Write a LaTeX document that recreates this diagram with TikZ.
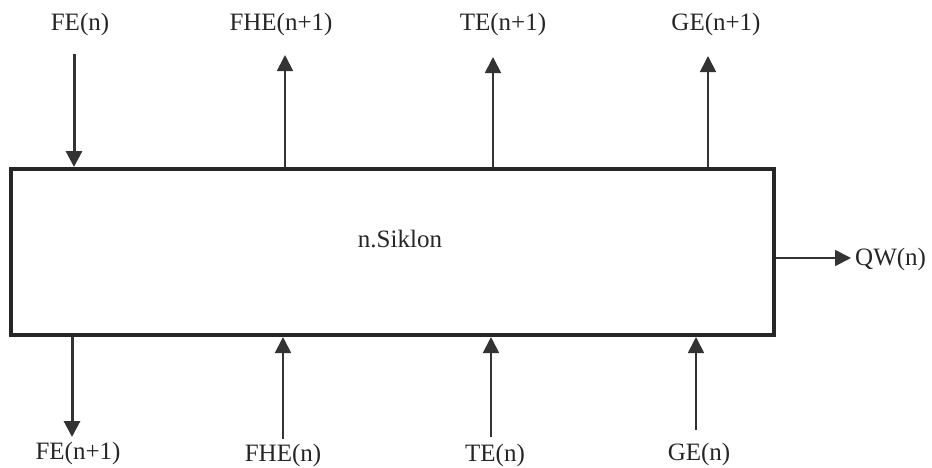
\documentclass[tikz,border=0pt]{standalone}
\usepackage{fontspec}
\setmainfont{Liberation Serif}
\usetikzlibrary{arrows.meta}
\begin{document}
\begin{tikzpicture}[x=1pt,y=-1pt,
 lbl/.style={font=\fontsize{25}{30}\selectfont, inner sep=0pt, text=black!85},
 flow/.style={draw=black!80, line width=1.8pt, -{Triangle[length=16pt,width=16pt]}, fill=black!75},
 heavy/.style={flow, line width=3pt},
]
\useasboundingbox (0,0) rectangle (932,467);
\node[draw=black!85, line width=4pt, minimum width=763pt, minimum height=166pt, inner sep=0pt] (box) at (392.5,252) {};
\node[lbl] (siklon) at (400,239) {n.Siklon};
% top labels
\node[lbl] (fen) at (80,24) {FE(n)};
\node[lbl] (fhen1) at (281,24) {FHE(n+1)};
\node[lbl] (ten1) at (503,24) {TE(n+1)};
\node[lbl] (gen1) at (716,24) {GE(n+1)};
% bottom labels
\node[lbl] (fen1) at (78,453) {FE(n+1)};
\node[lbl] (fhen) at (283,455) {FHE(n)};
\node[lbl] (ten) at (495,455) {TE(n)};
\node[lbl] (gen) at (699,454) {GE(n)};
\node[lbl, anchor=west] (qwn) at (855,259) {QW(n)};
% arrow ends
\coordinate (a1) at (74,54);
\coordinate (a2) at (285,55);
\coordinate (a3) at (493,57);
\coordinate (a4) at (708,56);
\coordinate (b1) at (72,437);
\coordinate (b2) at (283,439);
\coordinate (b3) at (491,437);
\coordinate (b4) at (696,430);
\coordinate (c1) at (851,258);
% arrows
\draw[heavy] (a1) -- (box.north -| a1);
\draw[flow] (box.north -| a2) -- (a2);
\draw[flow] (box.north -| a3) -- (a3);
\draw[flow] (box.north -| a4) -- (a4);
\draw[heavy] (box.south -| b1) -- (b1);
\draw[flow] (b2) -- (box.south -| b2);
\draw[flow] (b3) -- (box.south -| b3);
\draw[flow] (b4) -- (box.south -| b4);
\draw[flow] (box.east |- c1) -- (c1);
\end{tikzpicture}
\end{document}
